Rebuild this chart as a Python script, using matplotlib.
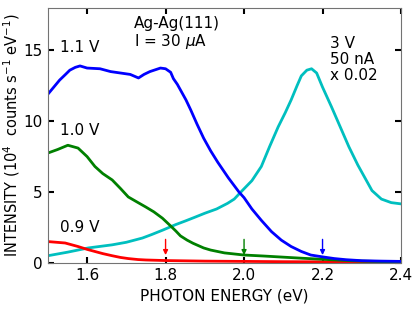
#!/usr/bin/env python3
"""Photon emission spectra of Ag-Ag(111) tunnel junction."""

import matplotlib
matplotlib.use('Agg')
import matplotlib.pyplot as plt
import numpy as np

# photon energy (eV) and intensity (1e4 counts/s/eV)
E_11 = [1.50, 1.515, 1.53, 1.545, 1.556, 1.57, 1.582, 1.60, 1.633, 1.66, 1.685, 1.71,
        1.731, 1.745, 1.76, 1.787, 1.80, 1.813, 1.82, 1.83, 1.84, 1.852, 1.864, 1.88,
        1.897, 1.915, 1.933, 1.96, 1.987, 2.0, 2.02, 2.044, 2.07, 2.095, 2.12, 2.146,
        2.17, 2.2, 2.23, 2.26, 2.3, 2.35, 2.4]
I_11 = [11.9, 12.4, 12.9, 13.3, 13.6, 13.8, 13.9, 13.75, 13.7, 13.5, 13.4, 13.3,
        13.05, 13.3, 13.5, 13.75, 13.7, 13.45, 13.0, 12.6, 12.1, 11.5, 10.8, 9.8,
        8.8, 7.9, 7.1, 6.0, 5.0, 4.6, 3.8, 3.0, 2.2, 1.6, 1.15, 0.8,
        0.55, 0.42, 0.3, 0.22, 0.15, 0.12, 0.1]

E_10 = [1.50, 1.525, 1.551, 1.577, 1.60, 1.62, 1.64, 1.664, 1.685, 1.705, 1.73, 1.749,
        1.77, 1.792, 1.813, 1.826, 1.838, 1.855, 1.87, 1.897, 1.915, 1.95, 2.0, 2.05,
        2.1, 2.15, 2.2, 2.25, 2.3, 2.35, 2.4]
I_10 = [7.75, 8.0, 8.3, 8.1, 7.5, 6.8, 6.3, 5.85, 5.25, 4.65, 4.25, 3.95,
        3.6, 3.15, 2.6, 2.25, 1.9, 1.6, 1.38, 1.05, 0.9, 0.7, 0.55, 0.48,
        0.4, 0.32, 0.25, 0.18, 0.12, 0.09, 0.07]

E_09 = [1.50, 1.544, 1.577, 1.60, 1.62, 1.64, 1.664, 1.685, 1.705, 1.73, 1.75, 1.8,
        1.9, 2.0, 2.1, 2.2, 2.3, 2.4]
I_09 = [1.5, 1.4, 1.15, 0.95, 0.8, 0.65, 0.5, 0.38, 0.3, 0.23, 0.2, 0.16,
        0.12, 0.1, 0.08, 0.07, 0.06, 0.05]

E_30 = [1.50, 1.55, 1.603, 1.664, 1.70, 1.741, 1.765, 1.792, 1.826, 1.85, 1.873, 1.90,
        1.93, 1.958, 1.975, 1.992, 2.02, 2.044, 2.065, 2.087, 2.105, 2.12, 2.135, 2.146,
        2.16, 2.172, 2.185, 2.2, 2.223, 2.245, 2.267, 2.29, 2.31, 2.326, 2.35, 2.375, 2.403]
I_30 = [0.5, 0.75, 1.05, 1.27, 1.45, 1.75, 2.0, 2.3, 2.7, 2.95, 3.2, 3.5,
        3.8, 4.2, 4.5, 5.0, 5.8, 6.8, 8.2, 9.6, 10.6, 11.5, 12.5, 13.2,
        13.6, 13.7, 13.4, 12.4, 11.0, 9.6, 8.2, 6.9, 5.9, 5.1, 4.5, 4.25, 4.15]

ARROW_E = [1.80, 2.00, 2.20]
ARROW_C = ['r', 'g', 'b']


def plot_graph(output_file):
    fig_fontsize = 11
    plt.rc('font', size=fig_fontsize)
    fig, ax = plt.subplots(figsize=(4.16, 3.14), dpi=100)
    fig.subplots_adjust(left=0.115, right=0.964, top=0.975, bottom=0.163)

    ax.plot(E_30, I_30, color='c', lw=2)
    ax.plot(E_09, I_09, color='r', lw=2)
    ax.plot(E_10, I_10, color='g', lw=2)
    ax.plot(E_11, I_11, color='b', lw=2)

    for e, c in zip(ARROW_E, ARROW_C):
        ax.annotate('', xy=(e, 0.35), xytext=(e, 1.85),
                    arrowprops=dict(arrowstyle='-|>', color=c, lw=1, mutation_scale=7))

    ax.set_xlim(1.5, 2.4)
    ax.set_ylim(0, 18)
    ax.set_xticks([1.6, 1.8, 2.0, 2.2, 2.4])
    ax.set_yticks([0, 5, 10, 15])
    ax.tick_params(direction='in', top=True, right=True, length=4, width=1.5)
    for s in ax.spines.values():
        s.set_color('0.45')
    ax.set_xlabel('PHOTON ENERGY (eV)')
    ax.set_ylabel('INTENSITY (10$^4$  counts s$^{-1}$ eV$^{-1}$)', fontsize=10.5, labelpad=1)

    ax.text(1.53, 14.9, '1.1 V')
    ax.text(1.53, 9.05, '1.0 V')
    ax.text(1.53, 2.15, '0.9 V')
    ax.text(1.72, 15.3, 'Ag-Ag(111)\nI = 30 $\\mu$A', linespacing=1.1)
    ax.text(2.22, 12.9, '3 V\n50 nA\nx 0.02', linespacing=1.1)

    plt.savefig(output_file)


if __name__ == "__main__":
    plot_graph('out.png')
